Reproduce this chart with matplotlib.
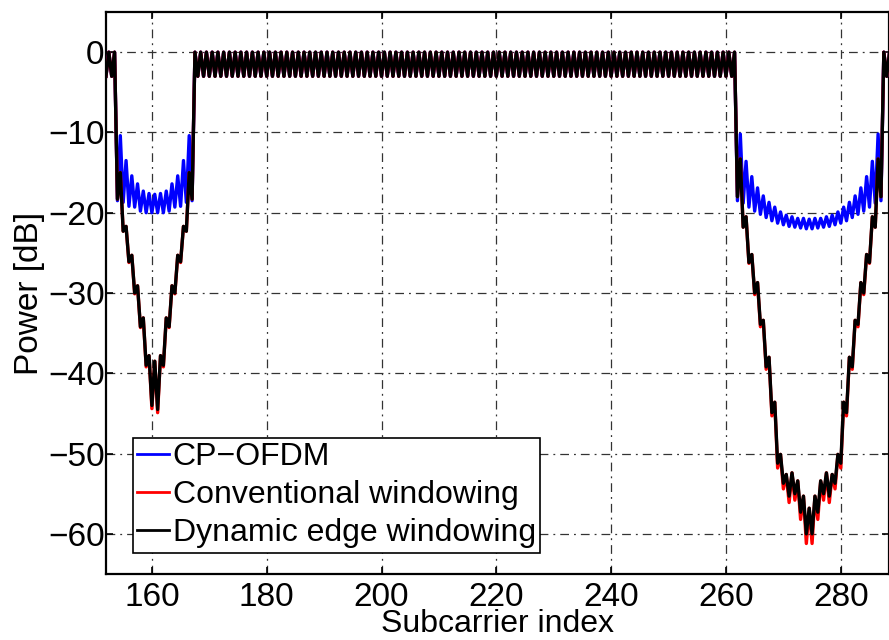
import numpy as np
import matplotlib
matplotlib.use("Agg")
import matplotlib.pyplot as plt

plt.rcParams['font.family'] = ['Liberation Sans', 'DejaVu Sans']
plt.rcParams['font.size'] = 24

# subcarrier grid (two samples per subcarrier)
subcarrier = np.arange(152.0, 289.0, 0.5)

# in-band ripple, shared by all three curves
lead_in = [-3, 0, -3, 0]                      # 152.0 .. 153.5
lead_out = [0, -3, 0]                         # 287.5 .. 288.5
passband = [                                  # 167.5 .. 261.5
    0, -3, 0, -3, 0, -3, 0, -3, 0, -3, 0, -3, 0, -3, 0, -3, 0, -3, 0, -3,
    0, -3, 0, -3, 0, -3, 0, -3, 0, -3, 0, -3, 0, -3, 0, -3, 0, -3, 0, -3,
    0, -3, 0, -3, 0, -3, 0, -3, 0, -3, 0, -3, 0, -3, 0, -3, 0, -3, 0, -3,
    0, -3, 0, -3, 0, -3, 0, -3, 0, -3, 0, -3, 0, -3, 0, -3, 0, -3, 0, -3,
    0, -3, 0, -3, 0, -3, 0, -3, 0, -3, 0, -3, 0, -3, 0, -3, 0, -3, 0, -3,
    0, -3, 0, -3, 0, -3, 0, -3, 0, -3, 0, -3, 0, -3, 0, -3, 0, -3, 0, -3,
    0, -3, 0, -3, 0, -3, 0, -3, 0, -3, 0, -3, 0, -3, 0, -3, 0, -3, 0, -3,
    0, -3, 0, -3, 0, -3, 0, -3, 0, -3, 0, -3, 0, -3, 0, -3, 0, -3, 0, -3,
    0, -3, 0, -3, 0, -3, 0, -3, 0, -3, 0, -3, 0, -3, 0, -3, 0, -3, 0, -3,
    0, -3, 0, -3, 0, -3, 0, -3, 0,
]

# left gap, 154.0 .. 167.0
cp_left = [-18.5, -10.4, -18.7, -13.5, -19.2, -15.4, -19.3, -16.4, -19.8,
           -17.3, -20.0, -17.6, -20.0, -17.7, -20.0, -17.6, -20.0, -17.3,
           -19.8, -16.4, -19.3, -15.4, -19.2, -13.5, -18.7, -10.4, -18.5]
conv_left = [-18.3, -15.0, -22.3, -21.7, -26.2, -25.3, -30.1, -29.1, -34.3,
             -33.1, -39.2, -37.8, -44.4, -38.5, -44.9, -37.8, -39.2, -33.1,
             -34.3, -29.1, -30.1, -25.3, -26.2, -21.7, -22.3, -15.0, -18.3]
edge_left = [-18.3, -15.0, -22.3, -21.7, -26.1, -25.3, -30.0, -29.1, -34.2,
             -33.1, -39.0, -37.8, -44.0, -38.5, -44.5, -37.8, -39.0, -33.1,
             -34.2, -29.1, -30.0, -25.3, -26.1, -21.7, -22.3, -15.0, -18.3]

# right gap, 262.0 .. 287.0
cp_right = [-18.5, -10.2, -18.8, -13.6, -19.3, -15.5, -19.8, -16.9, -20.2,
            -17.9, -20.6, -18.7, -21.0, -19.3, -21.3, -19.9, -21.5, -20.3,
            -21.7, -20.5, -21.8, -20.7, -21.9, -20.7, -22.0, -20.8, -22.0,
            -20.7, -21.9, -20.7, -21.8, -20.5, -21.7, -20.3, -21.5, -19.9,
            -21.3, -19.3, -21.0, -18.7, -20.6, -17.9, -20.2, -16.9, -19.8,
            -15.5, -19.3, -13.6, -18.8, -10.2, -18.5]
conv_right = [-18.0, -13.3, -21.8, -20.5, -26.3, -25.2, -30.2, -28.7, -34.2,
              -33.4, -39.5, -38.0, -45.3, -43.6, -51.8, -50.1, -54.4, -52.6,
              -56.1, -52.4, -55.8, -53.4, -58.2, -55.3, -61.2, -56.8, -61.2,
              -55.3, -58.2, -53.4, -55.8, -52.4, -56.1, -52.6, -54.4, -50.1,
              -51.8, -43.6, -45.3, -38.0, -39.5, -33.4, -34.2, -28.7, -30.2,
              -25.2, -26.3, -20.5, -21.8, -13.3, -18.0]
edge_right = [-18.0, -13.3, -21.8, -20.5, -26.2, -25.2, -30.0, -28.7, -33.9,
              -33.4, -39.2, -38.0, -44.9, -43.6, -51.2, -50.1, -53.7, -52.6,
              -55.3, -52.4, -55.0, -53.4, -57.3, -55.3, -60.0, -56.8, -60.0,
              -55.3, -57.3, -53.4, -55.0, -52.4, -55.3, -52.6, -53.7, -50.1,
              -51.2, -43.6, -44.9, -38.0, -39.2, -33.4, -33.9, -28.7, -30.0,
              -25.2, -26.2, -20.5, -21.8, -13.3, -18.0]

cp_ofdm = lead_in + cp_left + passband + cp_right + lead_out
conventional = lead_in + conv_left + passband + conv_right + lead_out
dynamic_edge = lead_in + edge_left + passband + edge_right + lead_out

fig = plt.figure(figsize=(8.89, 6.40), dpi=100)
ax = fig.add_axes([0.1192, 0.1031, 0.8808, 0.8781])

ax.plot(subcarrier, cp_ofdm, color='#0000ff', lw=2.4, label='CP\u2212OFDM', zorder=3)
ax.plot(subcarrier, conventional, color='#ff0000', lw=2.4, label='Conventional windowing', zorder=4)
ax.plot(subcarrier, dynamic_edge, color='black', lw=2.4, label='Dynamic edge windowing', zorder=5)

ax.set_xlim(152, 288.4)
ax.set_ylim(-65, 5)
ax.set_xticks([160, 180, 200, 220, 240, 260, 280])
ax.set_yticks([-60, -50, -40, -30, -20, -10, 0])
ax.grid(True, color='0.2', linestyle=(0, (7, 4, 1.5, 4)), linewidth=0.9, zorder=1)
ax.tick_params(direction='in', length=5, width=1.2, top=True, right=True)
ax.tick_params(axis='x', pad=6)
ax.tick_params(axis='y', pad=1)
for s in ax.spines.values():
    s.set_linewidth(1.6)

ax.set_xlabel('Subcarrier index', fontsize=23, va='bottom')
ax.xaxis.set_label_coords(0.5, -0.1155)
ax.set_ylabel('Power [dB]', labelpad=2)

leg = ax.legend(loc='lower left', bbox_to_anchor=(0.034, 0.037), borderaxespad=0,
                fancybox=False, framealpha=1, edgecolor='black', handlelength=1.0,
                handletextpad=0.1, labelspacing=0.25, borderpad=0.15, fontsize=23)
leg.get_frame().set_linewidth(1.2)
for line in leg.get_lines():
    line.set_linewidth(2.0)

fig.savefig('out.png', dpi=100)
